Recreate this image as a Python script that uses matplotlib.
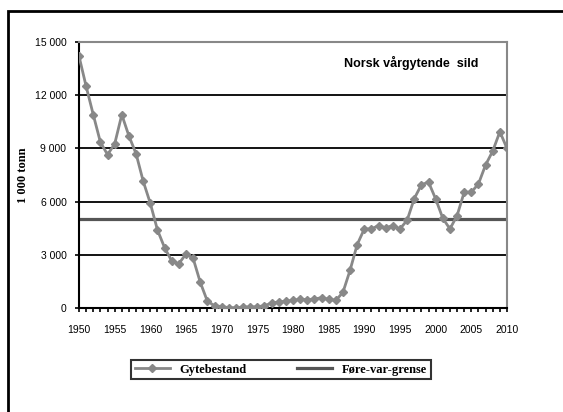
import numpy as np
import matplotlib.pyplot as plt
from matplotlib.patches import Rectangle

years = list(range(1950, 2011))
gytebestand = [14200, 12500, 10900, 9350, 8650, 9250, 10900, 9700, 8700, 7150,
               5900, 4400, 3400, 2650, 2500, 3050, 2800, 1450, 380, 130,
               80, 20, 10, 60, 60, 70, 130, 280, 340, 380,
               430, 490, 470, 510, 580, 490, 430, 880, 2130, 3580,
               4460, 4460, 4650, 4520, 4650, 4460, 4950, 6170, 6950, 7100,
               6150, 5060, 4460, 5210, 6530, 6530, 7000, 8070, 8850, 9940,
               9000]
grense = 5000
y_ticks = [0, 3000, 6000, 9000, 12000, 15000]
y_labels = ['0', '3 000', '6 000', '9 000', '12 000', '15 000']
x_ticks = list(range(1950, 2011, 5))

fig = plt.figure(figsize=(5.63, 4.12), dpi=100)
ax = fig.add_axes([79 / 563, 1 - 308 / 412, 428 / 563, 266 / 412])

for v in y_ticks[1:-1]:
    ax.axhline(v, color='black', linewidth=1.3, zorder=1)

ax.plot(years, gytebestand, color='#888888', linewidth=2, marker='D',
        markersize=4.5, label='Gytebestand', zorder=3)
ax.plot([years[0], years[-1]], [grense, grense], color='#555555',
        linewidth=2.3, label='Føre-var-grense', zorder=2)

ax.set_xlim(1950, 2010)
ax.set_ylim(0, 15000)
ax.set_yticks(y_ticks)
ax.set_yticklabels(y_labels)
ax.set_xticks(x_ticks)
ax.set_xticks(years, minor=True)
ax.tick_params(axis='both', labelsize=7.5, direction='out', length=3, width=1.2,
               colors='black')
ax.tick_params(axis='x', pad=9)
ax.tick_params(axis='y', pad=6)
ax.tick_params(axis='x', which='minor', length=3, width=1.2)
for lab in ax.get_xticklabels() + ax.get_yticklabels():
    lab.set_fontfamily('Liberation Sans')

ax.spines['left'].set_linewidth(1.5)
ax.spines['bottom'].set_linewidth(1.5)
ax.spines['top'].set_color('#888888')
ax.spines['right'].set_color('#888888')
ax.spines['top'].set_linewidth(1.5)
ax.spines['right'].set_linewidth(1.5)

ax.set_ylabel('1 000 tonn', fontsize=9, fontweight='bold',
              fontfamily='Liberation Serif')
ax.yaxis.set_label_coords((29 - 79) / 428, 0.5)

fig.text(411 / 563, 1 - 63 / 412, 'Norsk vårgytende  sild', fontsize=9,
         fontweight='bold', fontfamily='Liberation Sans',
         ha='center', va='center')

leg = ax.legend(loc='center', bbox_to_anchor=(281 / 563, 1 - 369.5 / 412),
                bbox_transform=fig.transFigure, ncol=2, frameon=True,
                fancybox=False, edgecolor='black', handlelength=2.8,
                columnspacing=4, borderpad=0.3,
                prop={'family': 'Liberation Serif', 'weight': 'bold', 'size': 9})
leg.get_frame().set_linewidth(1.5)

fig.patches.append(Rectangle((8 / 563, -0.1), 1, 1 - 11 / 412 + 0.1,
                             transform=fig.transFigure, fill=False,
                             edgecolor='black', linewidth=2))

fig.savefig('out.png', dpi=100)
